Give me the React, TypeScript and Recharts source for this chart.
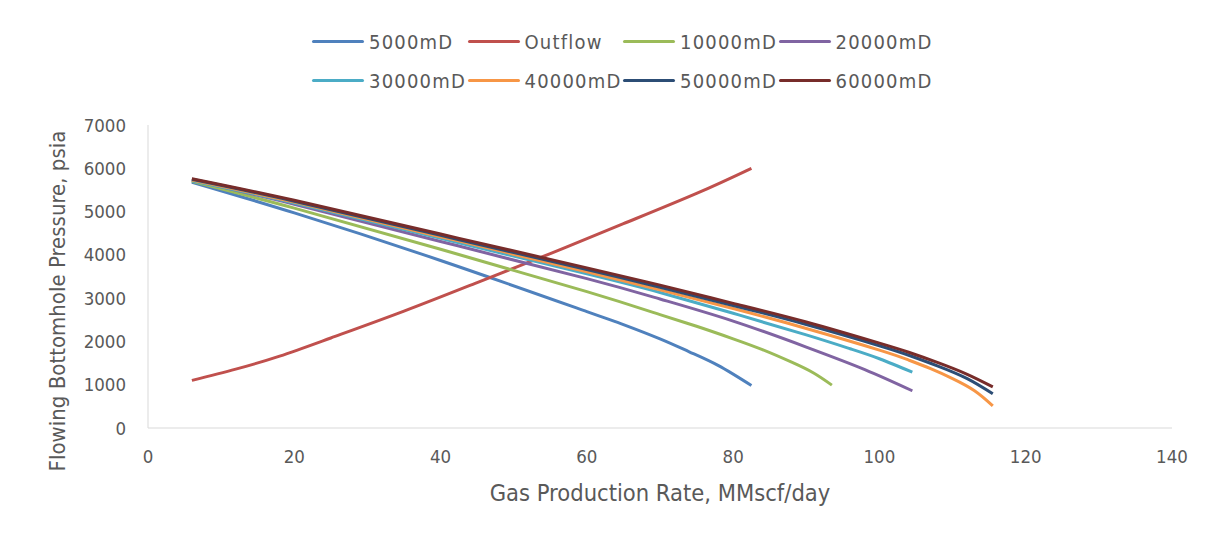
import { LineChart, Line, XAxis, YAxis } from "recharts";

type Pt = { x: number; y: number };

// x = gas rate (MMscf/day), y = flowing bottomhole pressure (psia)
const ipr5000: Pt[] = [
  { x: 6, y: 5680 }, { x: 20, y: 4970 }, { x: 40, y: 3870 }, { x: 60, y: 2690 },
  { x: 65, y: 2390 }, { x: 70, y: 2060 }, { x: 74, y: 1760 }, { x: 78, y: 1440 },
  { x: 82.5, y: 980 },
];
const outflow: Pt[] = [
  { x: 6, y: 1100 }, { x: 12, y: 1360 }, { x: 18, y: 1660 }, { x: 25, y: 2080 },
  { x: 35, y: 2700 }, { x: 45, y: 3360 }, { x: 55, y: 4030 }, { x: 65, y: 4720 },
  { x: 75, y: 5420 }, { x: 82.5, y: 6000 },
];
const ipr10000: Pt[] = [
  { x: 6, y: 5700 }, { x: 20, y: 5080 }, { x: 40, y: 4130 }, { x: 60, y: 3150 },
  { x: 70, y: 2620 }, { x: 75, y: 2350 }, { x: 80, y: 2060 }, { x: 84, y: 1810 },
  { x: 88, y: 1520 }, { x: 91, y: 1270 }, { x: 93.5, y: 990 },
];
const ipr20000: Pt[] = [
  { x: 6, y: 5720 }, { x: 20, y: 5170 }, { x: 40, y: 4310 }, { x: 60, y: 3450 },
  { x: 70, y: 2980 }, { x: 80, y: 2470 }, { x: 90, y: 1870 }, { x: 98, y: 1350 },
  { x: 104.5, y: 860 },
];
const ipr30000: Pt[] = [
  { x: 6, y: 5710 }, { x: 20, y: 5200 }, { x: 40, y: 4380 }, { x: 60, y: 3560 },
  { x: 70, y: 3130 }, { x: 80, y: 2650 }, { x: 90, y: 2150 }, { x: 96, y: 1830 },
  { x: 100, y: 1600 }, { x: 104.5, y: 1290 },
];
const ipr40000: Pt[] = [
  { x: 6, y: 5730 }, { x: 20, y: 5220 }, { x: 40, y: 4420 }, { x: 60, y: 3610 },
  { x: 70, y: 3190 }, { x: 80, y: 2760 }, { x: 90, y: 2300 }, { x: 100, y: 1800 },
  { x: 104, y: 1570 }, { x: 107, y: 1370 }, { x: 110, y: 1140 }, { x: 113, y: 860 },
  { x: 115.5, y: 510 },
];
const ipr50000: Pt[] = [
  { x: 6, y: 5745 }, { x: 20, y: 5240 }, { x: 40, y: 4450 }, { x: 60, y: 3660 },
  { x: 70, y: 3250 }, { x: 80, y: 2830 }, { x: 90, y: 2390 }, { x: 100, y: 1900 },
  { x: 104, y: 1680 }, { x: 108, y: 1430 }, { x: 112, y: 1140 }, { x: 115.5, y: 790 },
];
const ipr60000: Pt[] = [
  { x: 6, y: 5760 }, { x: 20, y: 5260 }, { x: 40, y: 4480 }, { x: 60, y: 3700 },
  { x: 70, y: 3300 }, { x: 80, y: 2880 }, { x: 90, y: 2450 }, { x: 100, y: 1960 },
  { x: 104, y: 1750 }, { x: 108, y: 1510 }, { x: 112, y: 1240 }, { x: 115.5, y: 950 },
];

const xTicks = [0, 20, 40, 60, 80, 100, 120, 140];
const yTicks = [0, 1000, 2000, 3000, 4000, 5000, 6000, 7000];

const series = [
  { name: "5000mD", data: ipr5000, color: "#4F81BD" },
  { name: "Outflow", data: outflow, color: "#C0504D" },
  { name: "10000mD", data: ipr10000, color: "#9BBB59" },
  { name: "20000mD", data: ipr20000, color: "#8064A2" },
  { name: "30000mD", data: ipr30000, color: "#4BACC6" },
  { name: "40000mD", data: ipr40000, color: "#F79646" },
  { name: "50000mD", data: ipr50000, color: "#2C4D75" },
  { name: "60000mD", data: ipr60000, color: "#772C2A" },
];

const FONT = "'Liberation Sans Narrow', 'DejaVu Sans Condensed', 'Open Sans', sans-serif";
const TEXT = "#595959";
const AXIS = "#D9D9D9";

function LegendBox() {
  return (
    <div
      style={{
        position: "absolute",
        left: 304,
        top: 14,
        width: 640,
        display: "flex",
        flexWrap: "wrap",
        fontFamily: FONT,
        fontSize: 20,
        color: TEXT,
        letterSpacing: 1.2,
      }}
    >
      {series.map((s) => (
        <div
          key={s.name}
          style={{ width: 155.5, height: 39, display: "flex", alignItems: "center" }}
        >
          <div style={{ width: 52, height: 3, background: s.color, borderRadius: 2, marginRight: 5 }} />
          <span>{s.name}</span>
        </div>
      ))}
    </div>
  );
}

const YTitle = () => (
  <text
    x={49}
    y={293}
    transform="rotate(-90 49 293)"
    textAnchor="middle"
    dominantBaseline="central"
    fill={TEXT}
    fontSize={22}
    fontFamily={FONT}
  >
    Flowing Bottomhole Pressure, psia
  </text>
);

export default function App() {
  return (
    <div style={{ position: "relative", width: 1199, height: 527, background: "#fff" }}>
      <LegendBox />
      <LineChart width={1199} height={527} margin={{ top: 117, right: 35, bottom: 77, left: 80 }}>
        <XAxis
          type="number"
          dataKey="x"
          domain={[0, 140]}
          ticks={xTicks}
          allowDataOverflow
          stroke={AXIS}
          tickLine={false}
          tickSize={0}
          tickMargin={22}
          tick={{ fill: TEXT, fontSize: 18.5, fontFamily: FONT }}
          label={{
            value: "Gas Production Rate, MMscf/day",
            position: "bottom",
            offset: 26,
            fill: TEXT,
            fontSize: 23.5,
            fontFamily: FONT,
          }}
        />
        <YAxis
          type="number"
          dataKey="y"
          domain={[0, 7000]}
          ticks={yTicks}
          stroke={AXIS}
          tickLine={false}
          tickSize={0}
          tickMargin={22}
          tick={{ fill: TEXT, fontSize: 18.5, fontFamily: FONT }}
          label={{ content: YTitle }}
        />
        {series.map((s) => (
          <Line
            key={s.name}
            name={s.name}
            data={s.data}
            dataKey="y"
            type="natural"
            stroke={s.color}
            strokeWidth={3}
            dot={false}
            activeDot={false}
            isAnimationActive={false}
          />
        ))}
      </LineChart>
    </div>
  );
}
